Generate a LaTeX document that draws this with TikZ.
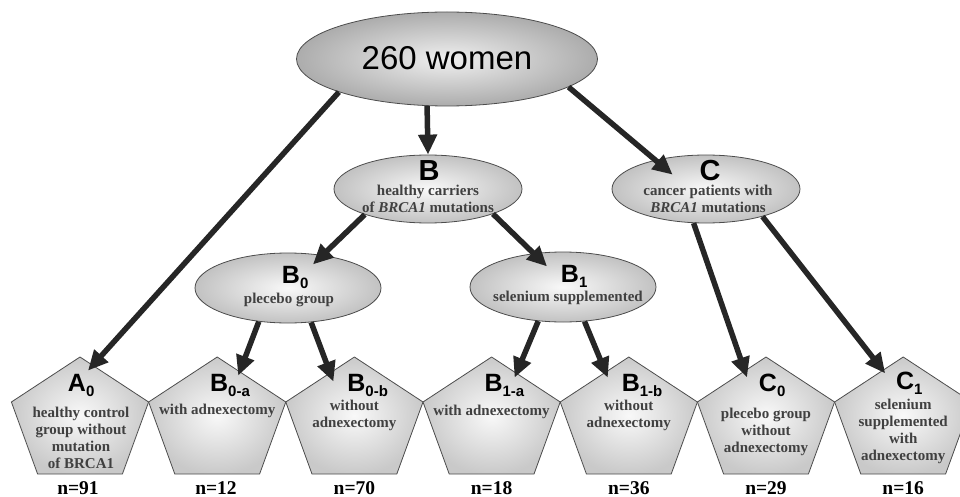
\documentclass[tikz,border=0pt]{standalone}
\usepackage{fontspec}
\setmainfont{Liberation Serif}
\setsansfont{Liberation Sans}
\usetikzlibrary{shapes.geometric,arrows.meta}
\newcommand{\grp}[2]{#1\rlap{\raisebox{-5pt}{\fontsize{15}{15}\selectfont #2}}}

\begin{document}
\begin{tikzpicture}[x=1pt,y=-1pt,
    pent/.style={shade, draw=black!70, line width=0.8pt, inner color=gray!5, outer color=gray!42},
    oval/.style={ellipse, shade, draw=black!70, line width=0.8pt, inner color=gray!5, outer color=gray!48, inner sep=0pt},
    lbl/.style={font=\fontsize{25}{25}\selectfont\sffamily\bfseries, inner sep=0pt, anchor=base},
    txt/.style={font=\fontsize{15}{17}\selectfont\bfseries, text=black!75, align=center, inner sep=0pt, anchor=base},
    cnt/.style={font=\fontsize{19.5}{20}\selectfont\bfseries, inner sep=0pt, anchor=base},
    arr/.style={draw=black!85, line width=5.5pt, -{Triangle[length=20pt,width=18pt]}}]
    \useasboundingbox (0,0) rectangle (960,497);

    % ovals
    \node[oval, inner color=gray!12, outer color=gray!65, minimum width=301pt, minimum height=94pt] (top) at (447,59) {};
    \node[font=\fontsize{33}{33}\selectfont\sffamily, inner sep=0pt, anchor=base] (toptxt) at (447,70) {260 women};

    \node[oval, minimum width=188pt, minimum height=68pt] (B) at (428,189) {};
    \node[lbl, font=\fontsize{29}{29}\selectfont\sffamily\bfseries] (Blbl) at (429,181) {B};
    \node[txt] (Btxt) at (428,212) {healthy carriers\\of \textit{BRCA1} mutations};

    \node[oval, minimum width=188pt, minimum height=68pt] (C) at (706,189) {};
    \node[lbl, font=\fontsize{29}{29}\selectfont\sffamily\bfseries] (Clbl) at (710,181) {C};
    \node[txt] (Ctxt) at (708,212) {cancer patients with\\\textit{BRCA1} mutations};

    \node[oval, minimum width=186pt, minimum height=70pt] (B0) at (288,288) {};
    \node[lbl] (B0lbl) at (291,283) {\grp{B}{0}};
    \node[txt] (B0txt) at (289,303) {plecebo group};

    \node[oval, minimum width=186pt, minimum height=70pt] (B1) at (563,287) {};
    \node[lbl] (B1lbl) at (570,282) {\grp{B}{1}};
    \node[txt] (B1txt) at (568,301) {selenium supplemented};

    % pentagons
    \foreach \cx in {80,217.2,354.4,491.6,628.8,766,903.2}
        \path[pent] (\cx,357) -- ++(68.6,45) -- ++(-26.2,72) -- ++(-84.8,0) -- ++(-26.2,-72) -- cycle;

    \node[lbl] (A0) at (77,391) {\grp{A}{0}};
    \node[lbl] (B0a) at (219.2,391) {\grp{B}{0-a}};
    \node[lbl] (B0b) at (356.4,391) {\grp{B}{0-b}};
    \node[lbl] (B1a) at (493.6,391) {\grp{B}{1-a}};
    \node[lbl] (B1b) at (630.8,391) {\grp{B}{1-b}};
    \node[lbl] (C0) at (768,391) {\grp{C}{0}};
    \node[lbl] (C1) at (905.2,389) {\grp{C}{1}};

    \node[txt] (A0txt) at (81,468) {healthy control\\group without\\mutation\\of BRCA1};
    \node[txt] (B0atxt) at (217.2,414) {with adnexectomy};
    \node[txt] (B0btxt) at (354.4,427) {without\\adnexectomy};
    \node[txt] (B1atxt) at (491.6,415) {with adnexectomy};
    \node[txt] (B1btxt) at (628.8,427) {without\\adnexectomy};
    \node[txt] (C0txt) at (766,452) {plecebo group\\without\\adnexectomy};
    \node[txt] (C1txt) at (903.2,460) {selenium\\supplemented\\with\\adnexectomy};

    \node[cnt] (nA0) at (78,494) {n=91};
    \node[cnt] (nB0a) at (216,494) {n=12};
    \node[cnt] (nB0b) at (354.4,494) {n=70};
    \node[cnt] (nB1a) at (491.6,494) {n=18};
    \node[cnt] (nB1b) at (628.8,494) {n=36};
    \node[cnt] (nC0) at (766,494) {n=29};
    \node[cnt] (nC1) at (903.2,494) {n=16};

    % arrows
    \draw[arr] (top.197) -- ([shift={(11,-3)}]A0.north);
    \draw[arr] (top.247) -- (B.north);
    \draw[arr] (top.347) -- ([shift={(-1,18)}]C.135);
    \draw[arr] (B.202) -- ([shift={(5,11)}]B0.60);
    \draw[arr] (B.339) -- ([shift={(4,14)}]B1.120);
    \draw[arr] (B0.229) -- ([shift={(19,2)}]B0a.north);
    \draw[arr] (B0.304) -- ([shift={(-23,8)}]B0b.north);
    \draw[arr] (B1.234) -- ([shift={(21,4)}]B1a.north);
    \draw[arr] (B1.302) -- ([shift={(-23,4)}]B1b.north);
    \draw[arr] (C.250) -- ([shift={(-21,4)}]C0.north);
    \draw[arr] (C.334) -- ([shift={(-20,2)}]C1.north);
\end{tikzpicture}
\end{document}
